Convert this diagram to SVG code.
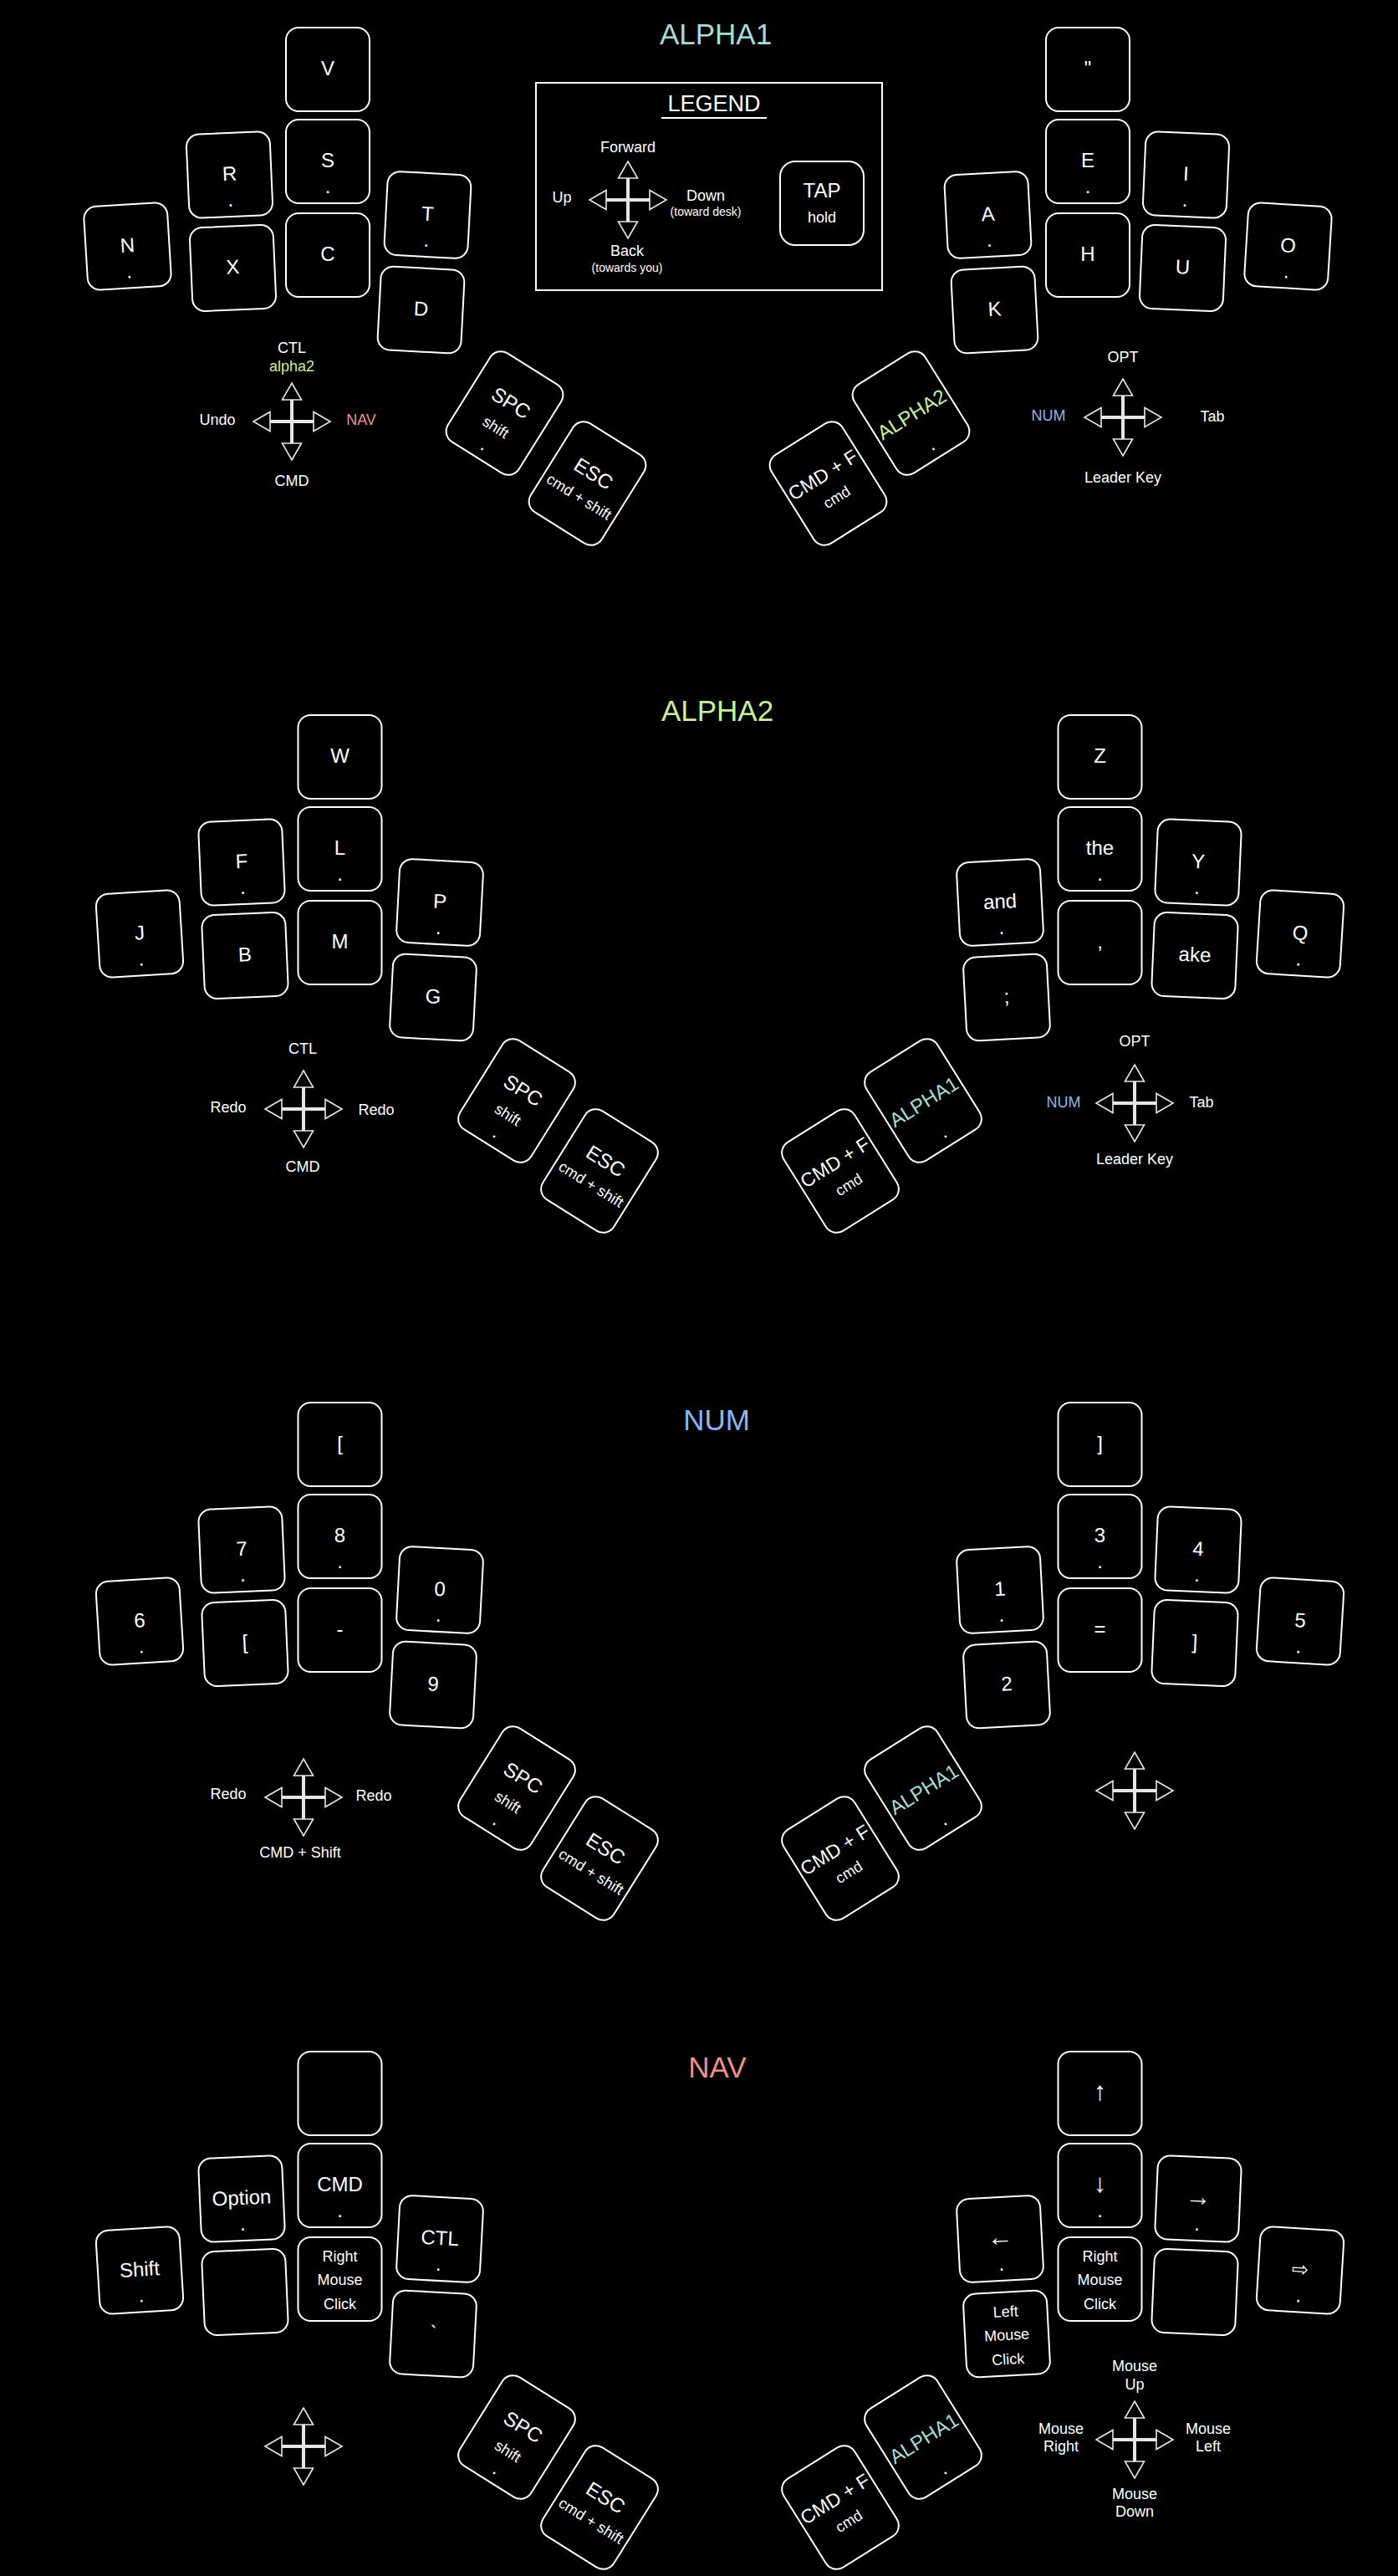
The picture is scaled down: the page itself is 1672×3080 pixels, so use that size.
<svg xmlns="http://www.w3.org/2000/svg" width="1672" height="3080" viewBox="0 0 1672 3080">
<style>
text { font-family: "Liberation Sans", Arial, "DejaVu Sans", sans-serif; text-anchor: middle; fill: #ffffff; }
.kl { font-size: 24px; }
.ar { font-size: 31px; }
.km { font-size: 23px; }
.sl { font-size: 18px; }
.xs { font-size: 14px; }
.ttl { font-size: 35px; }
.lg { font-size: 27px; }
.k { fill: #000000; stroke: #ffffff; stroke-width: 2; }
.a1 { fill: #a6dcd2; }
.a2 { fill: #c6f09a; }
.num { fill: #8fb5ef; }
.nav { fill: #f0908a; }
</style>
<defs>
<g id="cross">
<path d="M-26,0H26M0,-26V26" stroke="#e6e6e6" stroke-width="4" fill="none"/>
<path d="M0,-46L11.5,-26H-11.5Z M0,46L11.5,26H-11.5Z M-46,0L-26,-11.5V11.5Z M46,0L26,-11.5V11.5Z" fill="#000" stroke="#e6e6e6" stroke-width="1.6"/>
</g>
</defs>
<rect x="0" y="0" width="1672" height="3080" fill="#000"/>

<g id="titles">
<text class="ttl a1" x="856" y="53">ALPHA1</text>
<text class="ttl a2" x="858" y="862">ALPHA2</text>
<text class="ttl num" x="857" y="1710">NUM</text>
<text class="ttl nav" x="858" y="2484">NAV</text>
</g>

<g id="legend">
<rect x="641" y="99" width="414" height="248" fill="none" stroke="#fff" stroke-width="2"/>
<text class="lg" x="854" y="133">LEGEND</text>
<line x1="791" y1="141" x2="917" y2="141" stroke="#fff" stroke-width="2"/>
<text class="sl" x="751" y="182">Forward</text>
<text class="sl" x="672" y="242">Up</text>
<text class="sl" x="844" y="240">Down</text>
<text class="xs" x="844" y="258">(toward desk)</text>
<text class="sl" x="750" y="306">Back</text>
<text class="xs" x="750" y="325">(towards you)</text>
<g id="legend-tap">
<rect class="k" x="933" y="193" width="100" height="100" rx="18"/>
<text class="kl" x="983" y="236">TAP</text>
<text class="sl" x="983" y="266">hold</text>
</g>
</g>

<g id="connectors">
<use href="#cross" x="751" y="239"/>
<use href="#cross" x="349" y="504"/>
<use href="#cross" x="1343" y="499"/>
<use href="#cross" x="363" y="1326"/>
<use href="#cross" x="1357" y="1319"/>
<use href="#cross" x="363" y="2149"/>
<use href="#cross" x="1357" y="2141"/>
<use href="#cross" x="363" y="2925"/>
<use href="#cross" x="1357" y="2917"/>
</g>

<g id="cross-labels">
<text class="sl" x="349" y="422">CTL</text>
<text class="sl a2" x="349" y="444">alpha2</text>
<text class="sl" x="260" y="508">Undo</text>
<text class="sl nav" x="432" y="508">NAV</text>
<text class="sl" x="349" y="581">CMD</text>
<text class="sl" x="1343" y="433">OPT</text>
<text class="sl num" x="1254" y="503">NUM</text>
<text class="sl" x="1450" y="504">Tab</text>
<text class="sl" x="1343" y="577">Leader Key</text>

<text class="sl" x="362" y="1260">CTL</text>
<text class="sl" x="273" y="1330">Redo</text>
<text class="sl" x="450" y="1333">Redo</text>
<text class="sl" x="362" y="1401">CMD</text>
<text class="sl" x="1357" y="1251">OPT</text>
<text class="sl num" x="1272" y="1324">NUM</text>
<text class="sl" x="1437" y="1324">Tab</text>
<text class="sl" x="1357" y="1392">Leader Key</text>

<text class="sl" x="273" y="2151">Redo</text>
<text class="sl" x="447" y="2153">Redo</text>
<text class="sl" x="359" y="2221">CMD + Shift</text>

<text class="sl" x="1357" y="2835">Mouse</text>
<text class="sl" x="1357" y="2857">Up</text>
<text class="sl" x="1269" y="2910">Mouse</text>
<text class="sl" x="1269" y="2931">Right</text>
<text class="sl" x="1445" y="2910">Mouse</text>
<text class="sl" x="1445" y="2931">Left</text>
<text class="sl" x="1357" y="2988">Mouse</text>
<text class="sl" x="1357" y="3009">Down</text>
</g>

<g id="layer-alpha1" transform="translate(-14.5,-822)">
<g id="a1-v" transform="translate(406.5,905)"><rect class="k" x="-50" y="-50" width="100" height="100" rx="15"/><text class="kl" y="7">V</text></g>
<g id="a1-s" transform="translate(406.5,1015)"><rect class="k" x="-50" y="-50" width="100" height="100" rx="15"/><text class="kl" y="7">S</text><text class="kl" y="38">.</text></g>
<g id="a1-c" transform="translate(406.5,1127)"><rect class="k" x="-50" y="-50" width="100" height="100" rx="15"/><text class="kl" y="7">C</text></g>
<g id="a1-r" transform="translate(289,1031) rotate(-2.5)"><rect class="k" x="-50" y="-50" width="100" height="100" rx="15"/><text class="kl" y="7">R</text><text class="kl" y="38">.</text></g>
<g id="a1-x" transform="translate(293,1142.5) rotate(-2.5)"><rect class="k" x="-50" y="-50" width="100" height="100" rx="15"/><text class="kl" y="7">X</text></g>
<g id="a1-n" transform="translate(167,1116.5) rotate(-3.5)"><rect class="k" x="-50" y="-50" width="100" height="100" rx="15"/><text class="kl" y="7">N</text><text class="kl" y="38">.</text></g>
<g id="a1-t" transform="translate(526,1079) rotate(3)"><rect class="k" x="-50" y="-50" width="100" height="100" rx="15"/><text class="kl" y="7">T</text><text class="kl" y="38">.</text></g>
<g id="a1-d" transform="translate(518,1192.5) rotate(3)"><rect class="k" x="-50" y="-50" width="100" height="100" rx="15"/><text class="kl" y="7">D</text></g>
<g id="a1-spc" transform="translate(618,1316) rotate(32)"><rect class="k" x="-50" y="-62.5" width="100" height="125" rx="15"/><text class="kl" y="-6">SPC</text><text class="sl" y="26">shift</text><text class="kl" y="52">.</text></g>
<g id="a1-esc" transform="translate(717,1400) rotate(32)"><rect class="k" x="-50" y="-62.5" width="100" height="125" rx="15"/><text class="kl" y="-5.5">ESC</text><text class="sl" y="25">cmd + shift</text></g>

<g id="a1-quote" transform="translate(1315.5,905)"><rect class="k" x="-50" y="-50" width="100" height="100" rx="15"/><text class="kl" y="7">&quot;</text></g>
<g id="a1-e" transform="translate(1315.5,1015)"><rect class="k" x="-50" y="-50" width="100" height="100" rx="15"/><text class="kl" y="7">E</text><text class="kl" y="38">.</text></g>
<g id="a1-h" transform="translate(1315.5,1127)"><rect class="k" x="-50" y="-50" width="100" height="100" rx="15"/><text class="kl" y="7">H</text></g>
<g id="a1-i" transform="translate(1433,1031) rotate(2.5)"><rect class="k" x="-50" y="-50" width="100" height="100" rx="15"/><text class="kl" y="7">I</text><text class="kl" y="38">.</text></g>
<g id="a1-u" transform="translate(1429,1142.5) rotate(2.5)"><rect class="k" x="-50" y="-50" width="100" height="100" rx="15"/><text class="kl" y="7">U</text></g>
<g id="a1-o" transform="translate(1555,1116.5) rotate(3.5)"><rect class="k" x="-50" y="-50" width="100" height="100" rx="15"/><text class="kl" y="7">O</text><text class="kl" y="38">.</text></g>
<g id="a1-a" transform="translate(1196,1079) rotate(-3)"><rect class="k" x="-50" y="-50" width="100" height="100" rx="15"/><text class="kl" y="7">A</text><text class="kl" y="38">.</text></g>
<g id="a1-k" transform="translate(1204,1192.5) rotate(-3)"><rect class="k" x="-50" y="-50" width="100" height="100" rx="15"/><text class="kl" y="7">K</text></g>
<g id="a1-alpha2" transform="translate(1104,1316) rotate(-32)"><rect class="k" x="-50" y="-62.5" width="100" height="125" rx="15"/><text class="kl a2" y="10">ALPHA2</text><text class="kl" y="52">.</text></g>
<g id="a1-cmdf" transform="translate(1005,1400) rotate(-32)"><rect class="k" x="-50" y="-62.5" width="100" height="125" rx="15"/><text class="km" y="-4">CMD + F</text><text class="sl" y="25.5">cmd</text></g>
</g>

<g id="layer-alpha2">
<g id="a2-w" transform="translate(406.5,905)"><rect class="k" x="-50" y="-50" width="100" height="100" rx="15"/><text class="kl" y="7">W</text></g>
<g id="a2-l" transform="translate(406.5,1015)"><rect class="k" x="-50" y="-50" width="100" height="100" rx="15"/><text class="kl" y="7">L</text><text class="kl" y="38">.</text></g>
<g id="a2-m" transform="translate(406.5,1127)"><rect class="k" x="-50" y="-50" width="100" height="100" rx="15"/><text class="kl" y="7">M</text></g>
<g id="a2-f" transform="translate(289,1031) rotate(-2.5)"><rect class="k" x="-50" y="-50" width="100" height="100" rx="15"/><text class="kl" y="7">F</text><text class="kl" y="38">.</text></g>
<g id="a2-b" transform="translate(293,1142.5) rotate(-2.5)"><rect class="k" x="-50" y="-50" width="100" height="100" rx="15"/><text class="kl" y="7">B</text></g>
<g id="a2-j" transform="translate(167,1116.5) rotate(-3.5)"><rect class="k" x="-50" y="-50" width="100" height="100" rx="15"/><text class="kl" y="7">J</text><text class="kl" y="38">.</text></g>
<g id="a2-p" transform="translate(526,1079) rotate(3)"><rect class="k" x="-50" y="-50" width="100" height="100" rx="15"/><text class="kl" y="7">P</text><text class="kl" y="38">.</text></g>
<g id="a2-g" transform="translate(518,1192.5) rotate(3)"><rect class="k" x="-50" y="-50" width="100" height="100" rx="15"/><text class="kl" y="7">G</text></g>
<g id="a2-spc" transform="translate(618,1316) rotate(32)"><rect class="k" x="-50" y="-62.5" width="100" height="125" rx="15"/><text class="kl" y="-6">SPC</text><text class="sl" y="26">shift</text><text class="kl" y="52">.</text></g>
<g id="a2-esc" transform="translate(717,1400) rotate(32)"><rect class="k" x="-50" y="-62.5" width="100" height="125" rx="15"/><text class="kl" y="-5.5">ESC</text><text class="sl" y="25">cmd + shift</text></g>

<g id="a2-z" transform="translate(1315.5,905)"><rect class="k" x="-50" y="-50" width="100" height="100" rx="15"/><text class="kl" y="7">Z</text></g>
<g id="a2-the" transform="translate(1315.5,1015)"><rect class="k" x="-50" y="-50" width="100" height="100" rx="15"/><text class="kl" y="7">the</text><text class="kl" y="38">.</text></g>
<g id="a2-comma" transform="translate(1315.5,1127)"><rect class="k" x="-50" y="-50" width="100" height="100" rx="15"/><text class="kl" y="7">,</text></g>
<g id="a2-y" transform="translate(1433,1031) rotate(2.5)"><rect class="k" x="-50" y="-50" width="100" height="100" rx="15"/><text class="kl" y="7">Y</text><text class="kl" y="38">.</text></g>
<g id="a2-ake" transform="translate(1429,1142.5) rotate(2.5)"><rect class="k" x="-50" y="-50" width="100" height="100" rx="15"/><text class="kl" y="7">ake</text></g>
<g id="a2-q" transform="translate(1555,1116.5) rotate(3.5)"><rect class="k" x="-50" y="-50" width="100" height="100" rx="15"/><text class="kl" y="7">Q</text><text class="kl" y="38">.</text></g>
<g id="a2-and" transform="translate(1196,1079) rotate(-3)"><rect class="k" x="-50" y="-50" width="100" height="100" rx="15"/><text class="kl" y="7">and</text><text class="kl" y="38">.</text></g>
<g id="a2-semi" transform="translate(1204,1192.5) rotate(-3)"><rect class="k" x="-50" y="-50" width="100" height="100" rx="15"/><text class="kl" y="7">;</text></g>
<g id="a2-alpha1" transform="translate(1104,1316) rotate(-32)"><rect class="k" x="-50" y="-62.5" width="100" height="125" rx="15"/><text class="kl a1" y="10">ALPHA1</text><text class="kl" y="52">.</text></g>
<g id="a2-cmdf" transform="translate(1005,1400) rotate(-32)"><rect class="k" x="-50" y="-62.5" width="100" height="125" rx="15"/><text class="km" y="-4">CMD + F</text><text class="sl" y="25.5">cmd</text></g>
</g>

<g id="layer-num" transform="translate(0,822)">
<g id="num-lbr-top" transform="translate(406.5,905)"><rect class="k" x="-50" y="-50" width="100" height="100" rx="15"/><text class="kl" y="7">[</text></g>
<g id="num-8" transform="translate(406.5,1015)"><rect class="k" x="-50" y="-50" width="100" height="100" rx="15"/><text class="kl" y="7">8</text><text class="kl" y="38">.</text></g>
<g id="num-minus" transform="translate(406.5,1127)"><rect class="k" x="-50" y="-50" width="100" height="100" rx="15"/><text class="kl" y="7">-</text></g>
<g id="num-7" transform="translate(289,1031) rotate(-2.5)"><rect class="k" x="-50" y="-50" width="100" height="100" rx="15"/><text class="kl" y="7">7</text><text class="kl" y="38">.</text></g>
<g id="num-lbr" transform="translate(293,1142.5) rotate(-2.5)"><rect class="k" x="-50" y="-50" width="100" height="100" rx="15"/><text class="kl" y="7">[</text></g>
<g id="num-6" transform="translate(167,1116.5) rotate(-3.5)"><rect class="k" x="-50" y="-50" width="100" height="100" rx="15"/><text class="kl" y="7">6</text><text class="kl" y="38">.</text></g>
<g id="num-0" transform="translate(526,1079) rotate(3)"><rect class="k" x="-50" y="-50" width="100" height="100" rx="15"/><text class="kl" y="7">0</text><text class="kl" y="38">.</text></g>
<g id="num-9" transform="translate(518,1192.5) rotate(3)"><rect class="k" x="-50" y="-50" width="100" height="100" rx="15"/><text class="kl" y="7">9</text></g>
<g id="num-spc" transform="translate(618,1316) rotate(32)"><rect class="k" x="-50" y="-62.5" width="100" height="125" rx="15"/><text class="kl" y="-6">SPC</text><text class="sl" y="26">shift</text><text class="kl" y="52">.</text></g>
<g id="num-esc" transform="translate(717,1400) rotate(32)"><rect class="k" x="-50" y="-62.5" width="100" height="125" rx="15"/><text class="kl" y="-5.5">ESC</text><text class="sl" y="25">cmd + shift</text></g>

<g id="num-rbr-top" transform="translate(1315.5,905)"><rect class="k" x="-50" y="-50" width="100" height="100" rx="15"/><text class="kl" y="7">]</text></g>
<g id="num-3" transform="translate(1315.5,1015)"><rect class="k" x="-50" y="-50" width="100" height="100" rx="15"/><text class="kl" y="7">3</text><text class="kl" y="38">.</text></g>
<g id="num-eq" transform="translate(1315.5,1127)"><rect class="k" x="-50" y="-50" width="100" height="100" rx="15"/><text class="kl" y="7">=</text></g>
<g id="num-4" transform="translate(1433,1031) rotate(2.5)"><rect class="k" x="-50" y="-50" width="100" height="100" rx="15"/><text class="kl" y="7">4</text><text class="kl" y="38">.</text></g>
<g id="num-rbr" transform="translate(1429,1142.5) rotate(2.5)"><rect class="k" x="-50" y="-50" width="100" height="100" rx="15"/><text class="kl" y="7">]</text></g>
<g id="num-5" transform="translate(1555,1116.5) rotate(3.5)"><rect class="k" x="-50" y="-50" width="100" height="100" rx="15"/><text class="kl" y="7">5</text><text class="kl" y="38">.</text></g>
<g id="num-1" transform="translate(1196,1079) rotate(-3)"><rect class="k" x="-50" y="-50" width="100" height="100" rx="15"/><text class="kl" y="7">1</text><text class="kl" y="38">.</text></g>
<g id="num-2" transform="translate(1204,1192.5) rotate(-3)"><rect class="k" x="-50" y="-50" width="100" height="100" rx="15"/><text class="kl" y="7">2</text></g>
<g id="num-alpha1" transform="translate(1104,1316) rotate(-32)"><rect class="k" x="-50" y="-62.5" width="100" height="125" rx="15"/><text class="kl a1" y="10">ALPHA1</text><text class="kl" y="52">.</text></g>
<g id="num-cmdf" transform="translate(1005,1400) rotate(-32)"><rect class="k" x="-50" y="-62.5" width="100" height="125" rx="15"/><text class="km" y="-4">CMD + F</text><text class="sl" y="25.5">cmd</text></g>
</g>

<g id="layer-nav" transform="translate(0,1598)">
<g id="nav-empty-top" transform="translate(406.5,905)"><rect class="k" x="-50" y="-50" width="100" height="100" rx="15"/></g>
<g id="nav-cmd" transform="translate(406.5,1015)"><rect class="k" x="-50" y="-50" width="100" height="100" rx="15"/><text class="kl" y="7">CMD</text><text class="kl" y="38">.</text></g>
<g id="nav-rclick-l" transform="translate(406.5,1127)"><rect class="k" x="-50" y="-50" width="100" height="100" rx="15"/><text class="sl" y="-21">Right</text><text class="sl" y="6.5">Mouse</text><text class="sl" y="36">Click</text></g>
<g id="nav-option" transform="translate(289,1031) rotate(-2.5)"><rect class="k" x="-50" y="-50" width="100" height="100" rx="15"/><text class="kl" y="7">Option</text><text class="kl" y="38">.</text></g>
<g id="nav-empty-b" transform="translate(293,1142.5) rotate(-2.5)"><rect class="k" x="-50" y="-50" width="100" height="100" rx="15"/></g>
<g id="nav-shift" transform="translate(167,1116.5) rotate(-3.5)"><rect class="k" x="-50" y="-50" width="100" height="100" rx="15"/><text class="kl" y="7">Shift</text><text class="kl" y="38">.</text></g>
<g id="nav-ctl" transform="translate(526,1079) rotate(3)"><rect class="k" x="-50" y="-50" width="100" height="100" rx="15"/><text class="kl" y="7">CTL</text><text class="kl" y="38">.</text></g>
<g id="nav-grave" transform="translate(518,1192.5) rotate(3)"><rect class="k" x="-50" y="-50" width="100" height="100" rx="15"/><text class="kl" y="7">`</text></g>
<g id="nav-spc" transform="translate(618,1316) rotate(32)"><rect class="k" x="-50" y="-62.5" width="100" height="125" rx="15"/><text class="kl" y="-6">SPC</text><text class="sl" y="26">shift</text><text class="kl" y="52">.</text></g>
<g id="nav-esc" transform="translate(717,1400) rotate(32)"><rect class="k" x="-50" y="-62.5" width="100" height="125" rx="15"/><text class="kl" y="-5.5">ESC</text><text class="sl" y="25">cmd + shift</text></g>

<g id="nav-up" transform="translate(1315.5,905)"><rect class="k" x="-50" y="-50" width="100" height="100" rx="15"/><text class="ar" y="8">↑</text></g>
<g id="nav-down" transform="translate(1315.5,1015)"><rect class="k" x="-50" y="-50" width="100" height="100" rx="15"/><text class="ar" y="8">↓</text><text class="kl" y="38">.</text></g>
<g id="nav-rclick-r" transform="translate(1315.5,1127)"><rect class="k" x="-50" y="-50" width="100" height="100" rx="15"/><text class="sl" y="-21">Right</text><text class="sl" y="6.5">Mouse</text><text class="sl" y="36">Click</text></g>
<g id="nav-right" transform="translate(1433,1031) rotate(2.5)"><rect class="k" x="-50" y="-50" width="100" height="100" rx="15"/><text class="ar" y="8">→</text><text class="kl" y="38">.</text></g>
<g id="nav-empty-r" transform="translate(1429,1142.5) rotate(2.5)"><rect class="k" x="-50" y="-50" width="100" height="100" rx="15"/></g>
<g id="nav-wordright" transform="translate(1555,1116.5) rotate(3.5)"><rect class="k" x="-50" y="-50" width="100" height="100" rx="15"/><text class="kl" y="7">⇨</text><text class="kl" y="38">.</text></g>
<g id="nav-left" transform="translate(1196,1079) rotate(-3)"><rect class="k" x="-50" y="-50" width="100" height="100" rx="15"/><text class="ar" y="8">←</text><text class="kl" y="38">.</text></g>
<g id="nav-lclick" transform="translate(1204,1192.5) rotate(-3)"><rect class="k" x="-50" y="-50" width="100" height="100" rx="15"/><text class="sl" y="-20.5">Left</text><text class="sl" y="7.5">Mouse</text><text class="sl" y="36.5">Click</text></g>
<g id="nav-alpha1" transform="translate(1104,1316) rotate(-32)"><rect class="k" x="-50" y="-62.5" width="100" height="125" rx="15"/><text class="kl a1" y="10">ALPHA1</text><text class="kl" y="52">.</text></g>
<g id="nav-cmdf" transform="translate(1005,1400) rotate(-32)"><rect class="k" x="-50" y="-62.5" width="100" height="125" rx="15"/><text class="km" y="-4">CMD + F</text><text class="sl" y="25.5">cmd</text></g>
</g>
</svg>
